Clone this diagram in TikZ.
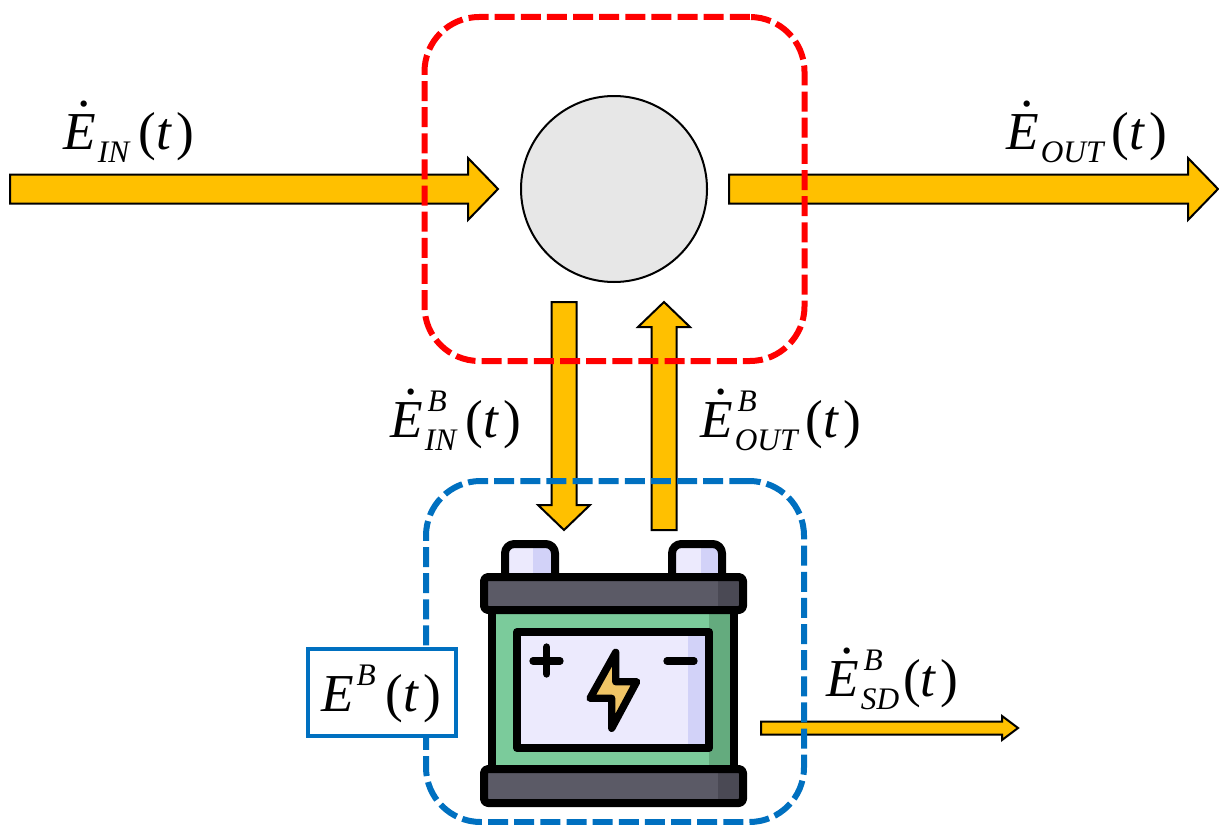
\documentclass[tikz,border=0pt]{standalone}
\usepackage{fontspec}
\setmainfont{Liberation Serif}
\usetikzlibrary{calc}
\definecolor{flow}{HTML}{FFC000}
\definecolor{redbox}{HTML}{FF0000}
\definecolor{bluebox}{HTML}{0070C0}
\definecolor{hubfill}{HTML}{E7E7E7}
\definecolor{capdark}{HTML}{5B5A66}
\definecolor{capshade}{HTML}{4A4954}
\definecolor{bodygreen}{HTML}{7BCB9B}
\definecolor{bodyshade}{HTML}{64AB7E}
\definecolor{panel}{HTML}{ECEAFD}
\definecolor{panelshade}{HTML}{D2D2F8}
\definecolor{bolt}{HTML}{F0C566}
\newcommand\mainsz{\fontsize{40}{44}\selectfont}
\newcommand\smallsz{\fontsize{23.5}{28}\selectfont}
\newcommand\dotE{\rlap{\kern10.9pt\raisebox{32pt}{.}}\textit{E}}
% #1 subscript, #2 superscript, #3 gap before the bracket
\newcommand\flowlabel[3]{\mainsz\dotE\kern1.5pt%
  \rlap{\smallsz\raisebox{-10pt}{\textit{#1}}}%
  \rlap{\smallsz\raisebox{19pt}{\kern2pt\textit{#2}}}%
  \setbox0=\hbox{\smallsz\textit{#1}}\kern\wd0\kern#3 (\textit{t}\kern3pt)}
% #1 from, #2 to, #3 half shaft, #4 half head, #5 head length
\newcommand\blockarrow[5]{%
  \draw[flowarrow]
    ($(#1)!#3*0.75pt!90:(#2)$) --
    ($(#2)!#5*0.75pt!(#1)!#3*0.75pt!90:(#2)$) --
    ($(#2)!#5*0.75pt!(#1)!#4*0.75pt!90:(#2)$) --
    (#2) --
    ($(#2)!#5*0.75pt!(#1)!#4*0.75pt!-90:(#2)$) --
    ($(#2)!#5*0.75pt!(#1)!#3*0.75pt!-90:(#2)$) --
    ($(#1)!#3*0.75pt!-90:(#2)$) -- cycle;}
\tikzset{
  flowarrow/.style={draw=black,fill=flow,line width=1.5pt,line join=miter},
  zonebox/.style={draw,line width=4.5pt,rounded corners=41pt,dash pattern=on 15pt off 4.6pt,inner sep=0pt},
  lbl/.style={anchor=base west,inner sep=0pt,text=black},
  bat/.style={draw=black,line width=6pt,line join=round},
  batline/.style={draw=black,line width=5.5pt,line cap=round,line join=round},
}
\begin{document}
\begin{tikzpicture}[x=0.75pt,y=-0.75pt]
\useasboundingbox (0,0) rectangle (1219,824);
% anchors of the flow arrows
\coordinate (inS) at (10,189);
\coordinate (inE) at (498,189);
\coordinate (outS) at (729,189);
\coordinate (outE) at (1218,189);
\coordinate (dnS) at (564,302);
\coordinate (dnE) at (564,530);
\coordinate (upS) at (664,530);
\coordinate (upE) at (664,302);
\coordinate (sdS) at (761,728);
\coordinate (sdE) at (1018,728);
% arrows
\blockarrow{inS}{inE}{14.5}{31}{30}
\blockarrow{outS}{outE}{14.5}{31}{30}
\blockarrow{dnS}{dnE}{12.5}{26}{25}
\blockarrow{upS}{upE}{12.5}{26}{25}
\blockarrow{sdS}{sdE}{6.5}{12}{16}
% hub
\node[circle,draw=black,fill=hubfill,line width=1.5pt,minimum size=139.5pt,inner sep=0pt] (hub) at (614,189) {};
% zones
\node[zonebox,draw=redbox,minimum width=285pt,minimum height=258pt] (redzone) at (614.5,189) {};
\node[zonebox,draw=bluebox,minimum width=283.5pt,minimum height=255.75pt] (bluezone) at (615,651.5) {};
% battery
\fill[panel] (507,546) rectangle (553,577);
\fill[panelshade] (533,546) rectangle (553,577);
\fill[panel] (674,546) rectangle (720,577);
\fill[panelshade] (701,546) rectangle (720,577);
\draw[bat,rounded corners=7pt] (505,577) -- (505,544) -- (555,544) -- (555,577);
\draw[bat,rounded corners=7pt] (672,577) -- (672,544) -- (722,544) -- (722,577);
\fill[bodygreen] (492,610) rectangle (734,769);
\fill[bodyshade] (709,610) rectangle (734,769);
\draw[bat] (492,610) rectangle (734,769);
\fill[capdark] (484,577) rectangle (743,610);
\fill[capshade] (717.5,577) rectangle (743,610);
\draw[bat,rounded corners=3pt] (484,577) rectangle (743,610);
\fill[capdark] (484,769) rectangle (743,803);
\fill[capshade] (717.5,769) rectangle (743,803);
\draw[bat,rounded corners=3pt] (484,769) rectangle (743,803);
\fill[panel] (517,632) rectangle (709,748);
\fill[panelshade] (688,632) rectangle (709,748);
\draw[bat] (517,632) rectangle (709,748);
\draw[batline] (533,661) -- (560,661) (546.7,647) -- (546.7,674);
\draw[batline] (667,661) -- (694,661);
\draw[batline,fill=bolt] (615.7,652.3) -- (590,698.3) -- (611.7,698.3) -- (611.7,728.3) -- (636.7,681.7) -- (615.7,681.7) -- cycle;
% state box
\node[draw=bluebox,fill=white,line width=3pt,minimum width=111pt,minimum height=65.25pt,inner sep=0pt] (state) at (382,692.5) {};
% labels
\node[lbl] (l1) at (63,149) {\flowlabel{IN}{}{6pt}};
\node[lbl] (l2) at (1006,149) {\flowlabel{OUT}{}{4.5pt}};
\node[lbl] (l3) at (390,437) {\flowlabel{IN}{B}{6pt}};
\node[lbl] (l4) at (700,437) {\flowlabel{OUT}{B}{4.5pt}};
\node[lbl] (l5) at (826,696) {\flowlabel{SD}{B}{3pt}};
\node[lbl] (l6) at (321,711) {\mainsz\textit{E}\kern2pt\raisebox{19pt}{\smallsz\textit{B}}\kern7.5pt(\textit{t}\kern3pt)};
\end{tikzpicture}
\end{document}
